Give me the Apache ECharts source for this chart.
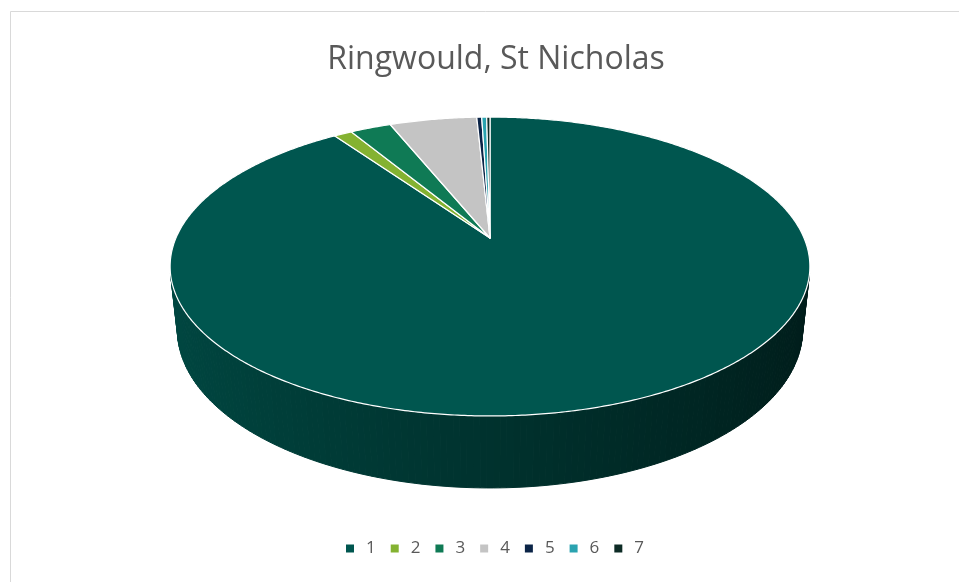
<!DOCTYPE html>
<html>
<head>
<meta charset="utf-8">
<script src="https://cdn.jsdelivr.net/npm/echarts@6/dist/echarts.min.js"></script>
<style>
html, body { margin: 0; padding: 0; background: #fff; }
#chart { width: 959px; height: 582px; }
</style>
</head>
<body>
<div id="chart"></div>
<script>
// slice data
const categories = ['1', '2', '3', '4', '5', '6', '7'];
const values = [90.3, 1.1, 2.5, 5.3, 0.3, 0.3, 0.2];
const colors = ['#00564f', '#84b231', '#0f7a55', '#c4c4c4', '#0b2447', '#2aa3b0', '#0d2b25'];

// camera for the 3d disc (radius 1, thickness h)
const view = { cx: 490, cy: 238, f: 1464, D: 4.662, tilt: 27.3, h: 0.229 };

function project(theta, r, y) {
  var a = view.tilt * Math.PI / 180;
  var X = r * Math.sin(theta), Z = r * Math.cos(theta);
  var yc = y * Math.cos(a) + Z * Math.sin(a);
  var zc = Z * Math.cos(a) - y * Math.sin(a) + view.D;
  return [view.cx + view.f * X / zc, view.cy - view.f * yc / zc];
}

function shade(hex, k) {
  var n = parseInt(hex.slice(1), 16);
  var r = Math.round(((n >> 16) & 255) * k), g = Math.round(((n >> 8) & 255) * k), b = Math.round((n & 255) * k);
  return 'rgb(' + r + ',' + g + ',' + b + ')';
}

const total = values.reduce((s, v) => s + v, 0);
function sliceAngles(i) {
  var before = 0;
  for (var j = 0; j < i; j++) before += values[j];
  return [2 * Math.PI * before / total, 2 * Math.PI * (before + values[i]) / total];
}

function renderWall(params, api) {
  var i = params.dataIndex;
  var ang = sliceAngles(i);
  var n = Math.max(2, Math.ceil((ang[1] - ang[0]) / (Math.PI / 180)));
  var children = [];
  for (var k = 0; k < n; k++) {
    var t0 = ang[0] + (ang[1] - ang[0]) * k / n;
    var t1 = ang[0] + (ang[1] - ang[0]) * (k + 1) / n;
    var pts = [project(t0, 1, 0), project(t1, 1, 0), project(t1, 1, -view.h), project(t0, 1, -view.h)];
    var area = 0;
    for (var p = 0; p < 4; p++) {
      var q = (p + 1) % 4;
      area += pts[p][0] * pts[q][1] - pts[q][0] * pts[p][1];
    }
    if (area >= 0) continue; // back facing
    var c = shade(colors[i], 0.58 - 0.25 * Math.sin((t0 + t1) / 2));
    children.push({
      type: 'polygon',
      shape: { points: pts },
      style: { fill: c, stroke: c, lineWidth: 1 }
    });
  }
  return { type: 'group', children: children };
}

function renderTop(params, api) {
  var i = params.dataIndex;
  var ang = sliceAngles(i);
  var n = Math.max(2, Math.ceil((ang[1] - ang[0]) / (Math.PI / 360)));
  var pts = [[view.cx, view.cy]];
  for (var k = 0; k <= n; k++) {
    pts.push(project(ang[0] + (ang[1] - ang[0]) * k / n, 1, 0));
  }
  return {
    type: 'polygon',
    shape: { points: pts },
    style: { fill: colors[i], stroke: '#ffffff', lineWidth: 1.2, lineJoin: 'round' }
  };
}

var chart = echarts.init(document.getElementById('chart'));
chart.setOption({
  backgroundColor: '#ffffff',
  animation: false,
  title: {
    text: 'Ringwould, St Nicholas',
    left: 491,
    textAlign: 'center',
    top: 39,
    textStyle: { color: '#595959', fontSize: 32, fontWeight: 'normal', fontFamily: 'Open Sans' }
  },
  legend: {
    bottom: 20,
    left: 341,
    icon: 'rect',
    itemWidth: 8,
    itemHeight: 8,
    itemGap: 15,
    data: categories,
    textStyle: { color: '#595959', fontSize: 17, fontFamily: 'Open Sans', padding: [0, 0, 0, 7] }
  },
  graphic: [{
    type: 'rect',
    silent: true,
    shape: { x: 10.5, y: 11.5, width: 1000, height: 1000 },
    style: { fill: 'none', stroke: '#d9d9d9', lineWidth: 1 }
  }],
  series: [
    {
      // feeds the legend only
      type: 'pie',
      radius: 0,
      silent: true,
      label: { show: false },
      labelLine: { show: false },
      data: categories.map((c, i) => ({ name: c, value: values[i], itemStyle: { color: colors[i] } }))
    },
    {
      type: 'custom',
      coordinateSystem: 'none',
      silent: true,
      z: 1,
      renderItem: renderWall,
      data: values
    },
    {
      type: 'custom',
      coordinateSystem: 'none',
      silent: true,
      z: 2,
      renderItem: renderTop,
      data: values
    }
  ]
});
</script>
</body>
</html>
